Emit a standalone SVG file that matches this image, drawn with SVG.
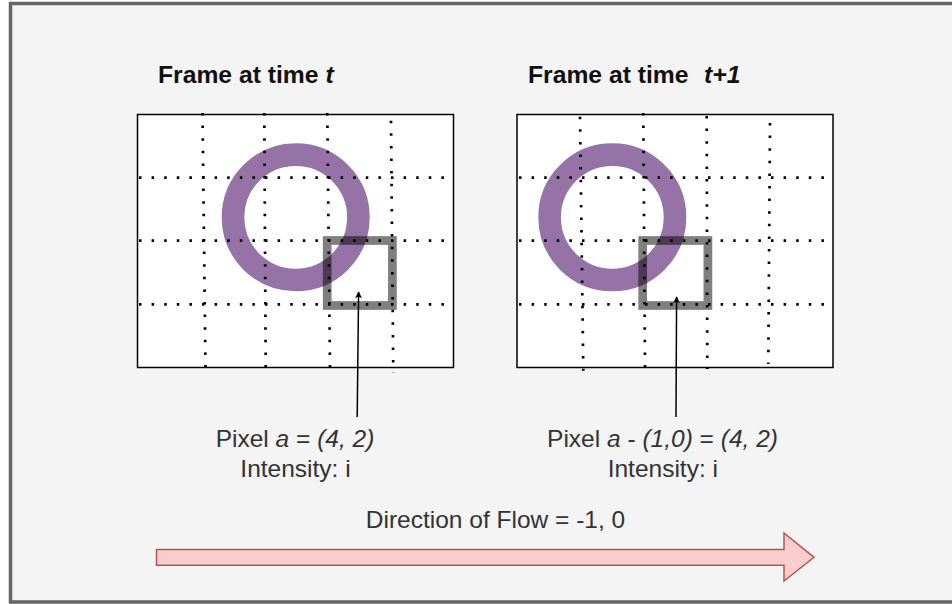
<svg xmlns="http://www.w3.org/2000/svg" width="952" height="604" viewBox="0 0 952 604">
<style>
.frame{fill:#fff;stroke:#000;stroke-width:1.5}
.ring{fill:none;stroke:#9673a6;stroke-width:22.6}
.sq{fill:none;stroke:#000;stroke-opacity:0.5;stroke-width:8.7}
.grid{stroke:#000;stroke-width:2.7;stroke-dasharray:2.5 10.1;fill:none}
.title{font-family:"Liberation Sans",Arial,sans-serif;font-size:24.7px;font-weight:bold;fill:#111}
.lbl{font-family:"Liberation Sans",Arial,sans-serif;font-size:24.5px;fill:#333;text-anchor:middle}
.it{font-style:italic}
.conn{stroke:#000;stroke-width:1.5;fill:none}
</style>
<defs>
<marker id="ah" viewBox="0 0 10 10" refX="9" refY="5" markerWidth="7" markerHeight="7" markerUnits="userSpaceOnUse" orient="auto">
<path d="M0,0 L10,5 L0,10 L2.5,5 Z" fill="#000"/>
</marker>
</defs>
<rect x="0" y="0" width="952" height="604" fill="#fff"/>
<rect id="background" x="10.5" y="3.5" width="960" height="598.5" fill="#f4f4f4" stroke="#666" stroke-width="3.5"/>

<g id="frame1">
<text class="title" x="158" y="83">Frame at time <tspan class="it">t</tspan></text>
<rect class="frame" x="137.5" y="114.5" width="316" height="253"/>
<circle class="ring" cx="295.7" cy="217.3" r="62.7"/>
<rect class="sq" x="327.2" y="240.5" width="65.2" height="65"/>
<g class="grid">
<path d="M202.5,113 L205.5,367"/>
<path d="M264.3,113 L265.7,367"/>
<path d="M327.3,113 L330,367"/>
<path d="M391,120.7 L393.3,373"/>
<path d="M139,177.7 H446"/>
<path d="M139,240.7 H446"/>
<path d="M139,304.3 H446"/>
</g>
</g>

<g id="frame2">
<text class="title" x="528" y="83">Frame at time <tspan class="it" x="704">t+1</tspan></text>
<rect class="frame" x="517" y="114.5" width="316" height="253"/>
<circle class="ring" cx="612.3" cy="217.3" r="62.7"/>
<rect class="sq" x="642.7" y="240.5" width="65.2" height="65"/>
<g class="grid">
<path d="M580,116.7 L583.3,370.7"/>
<path d="M643.3,113 L645,367"/>
<path d="M706.7,116 L707.3,369"/>
<path d="M770,123 L768.3,364"/>
<path d="M519,177.7 H826"/>
<path d="M519,240.7 H826"/>
<path d="M519,304.3 H826"/>
</g>
</g>

<g id="label1">
<text class="lbl" x="295" y="447">Pixel <tspan class="it">a</tspan> = <tspan class="it">(4, 2)</tspan></text>
<text class="lbl" x="295.5" y="476.5">Intensity: i</text>
</g>

<g id="label2">
<text class="lbl" x="662.5" y="447">Pixel <tspan class="it">a</tspan> - <tspan class="it">(1,0)</tspan> = <tspan class="it">(4, 2)</tspan></text>
<text class="lbl" x="662.8" y="476.5">Intensity: i</text>
</g>

<g id="flow">
<text class="lbl" x="495.5" y="528">Direction of Flow = -1, 0</text>
<path d="M156.5,549.5 H784 V533 L814,557.3 L784,581 V565.3 H156.5 Z" fill="#f8cecc" stroke="#b85450" stroke-width="1.5"/>
</g>

<g id="connectors">
<path class="conn" d="M357.2,417 L358.6,292" marker-end="url(#ah)"/>
<path class="conn" d="M676,417 L676.6,297" marker-end="url(#ah)"/>
</g>
</svg>
